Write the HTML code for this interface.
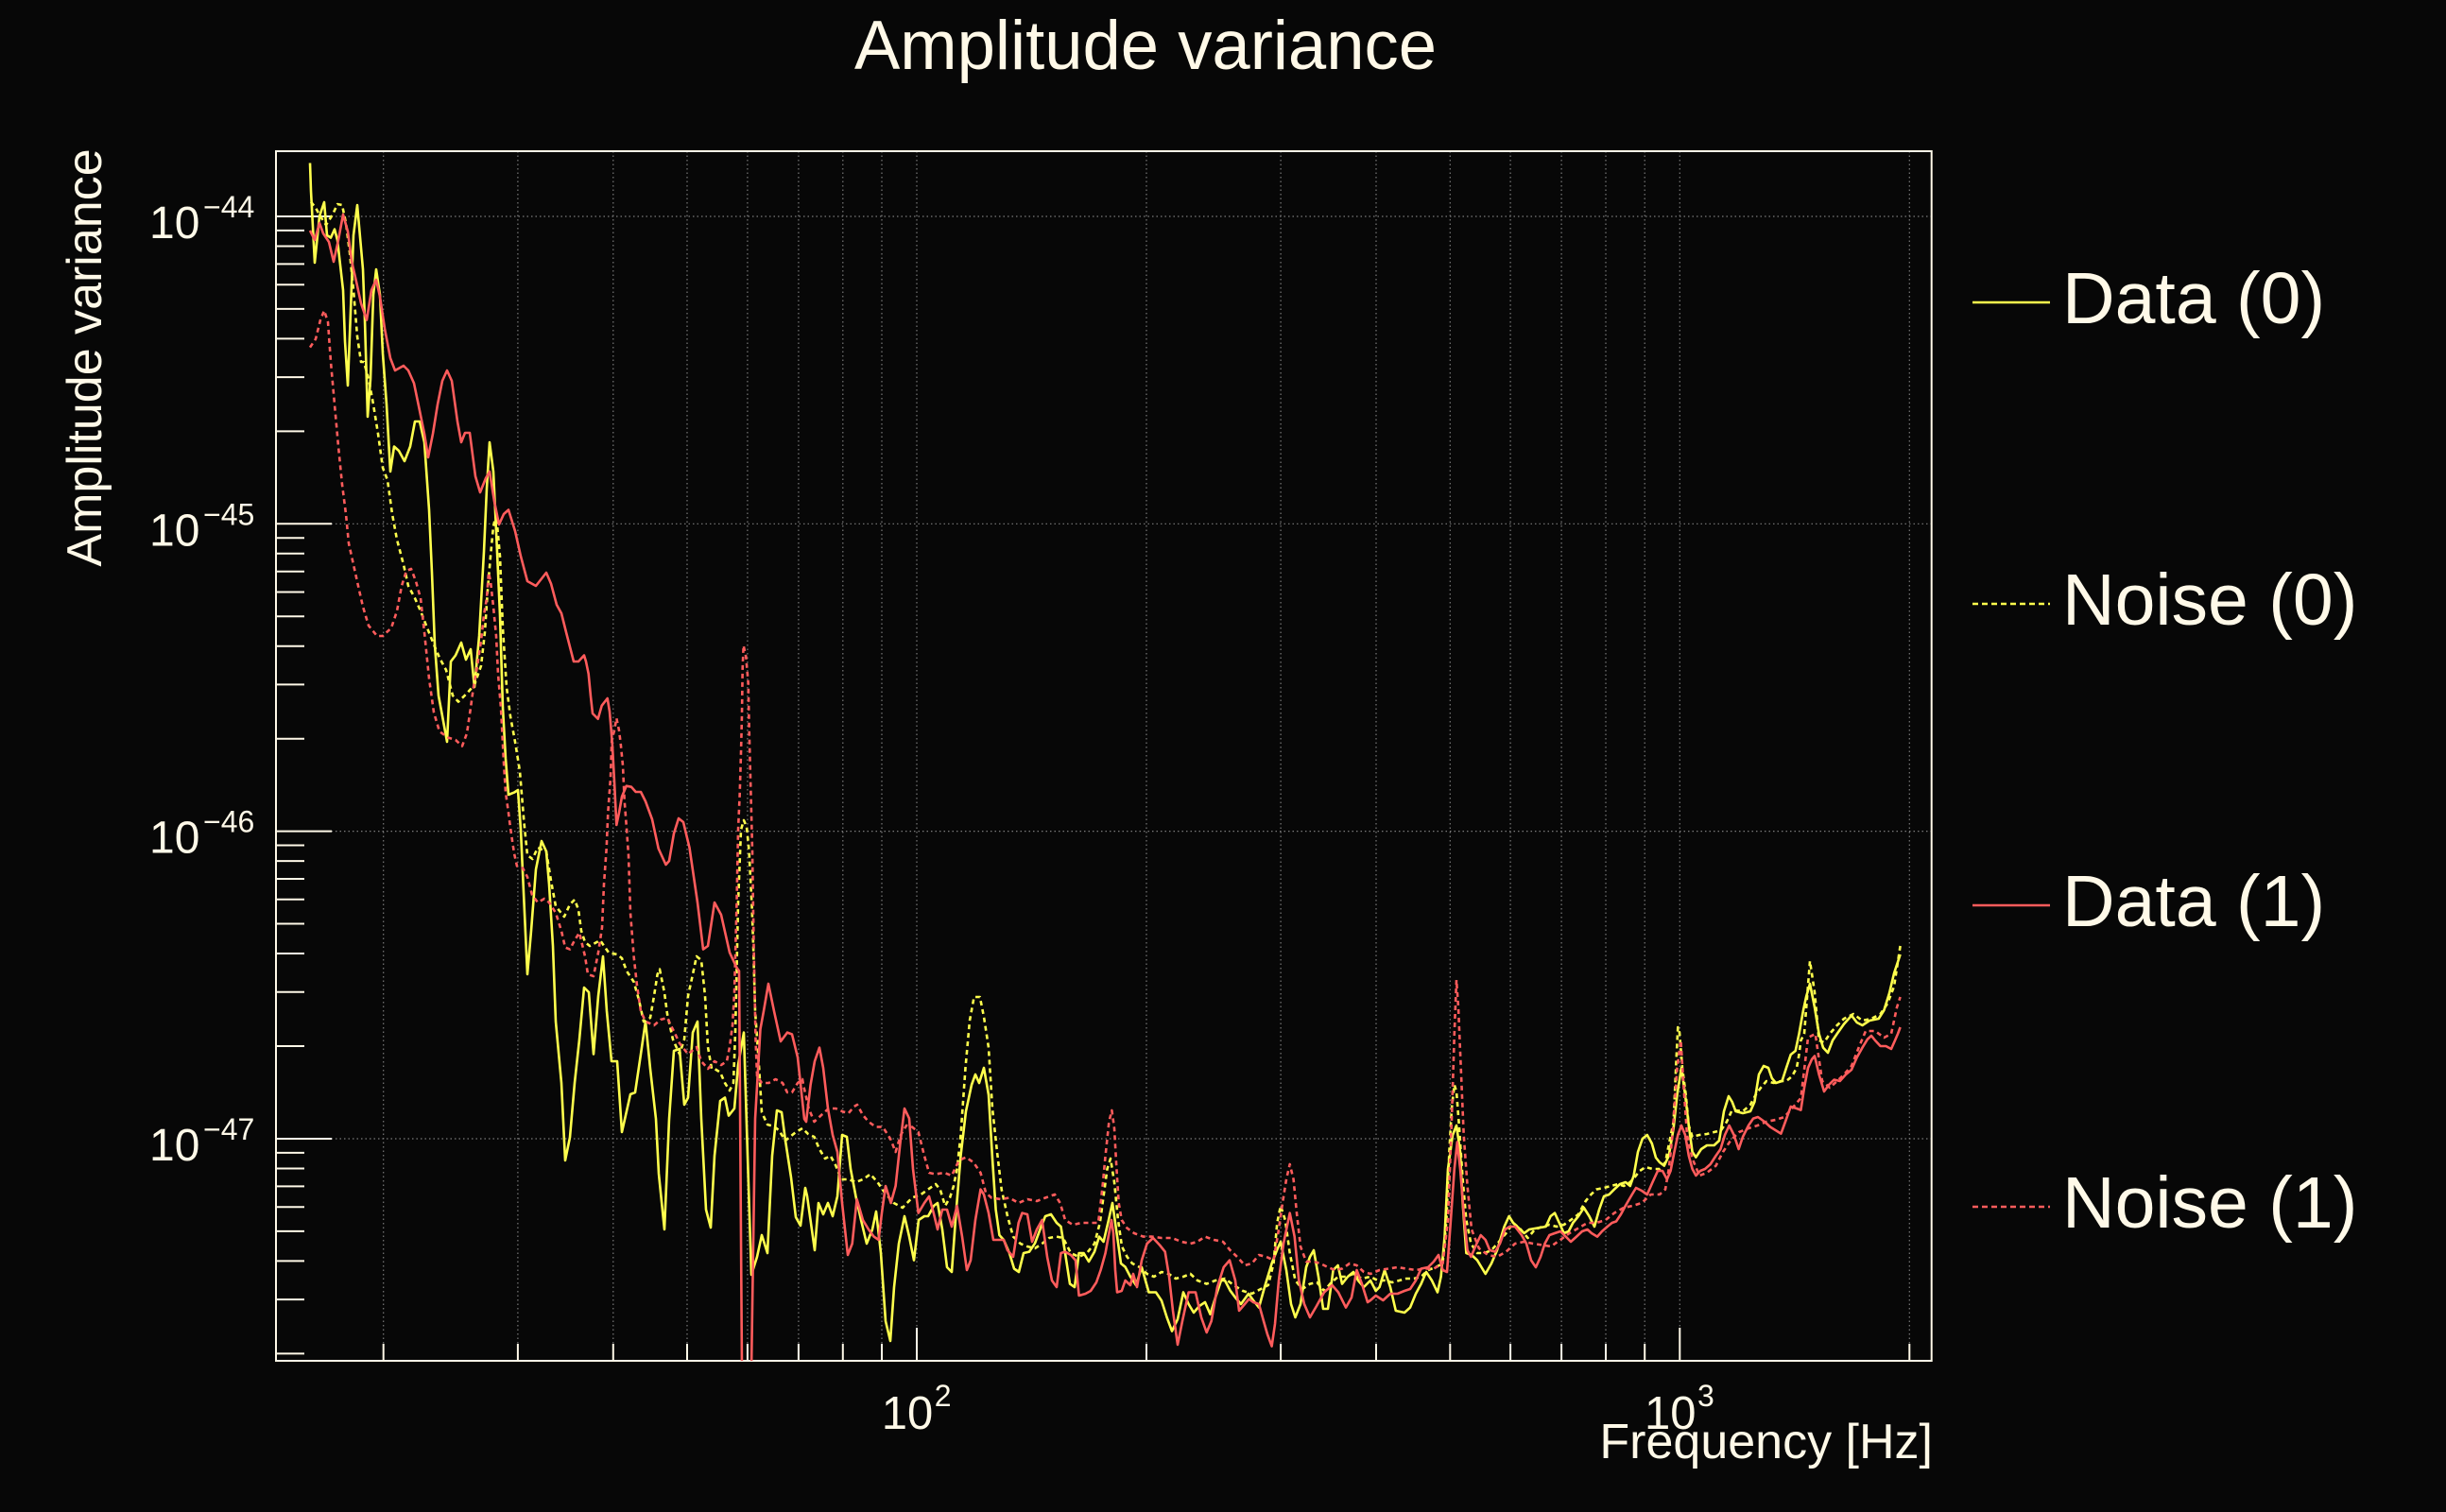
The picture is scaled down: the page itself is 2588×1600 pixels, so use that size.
<!DOCTYPE html>
<html><head><meta charset="utf-8"><style>
html,body{margin:0;padding:0;background:#070707;}
svg{display:block;}
text{font-family:"Liberation Sans",Arial,sans-serif;fill:#fff9e8;}
</style></head><body>
<svg width="2588" height="1600" viewBox="0 0 2588 1600" xmlns="http://www.w3.org/2000/svg">
<rect x="0" y="0" width="2588" height="1600" fill="#070707"/>
<defs><clipPath id="pc"><rect x="292" y="160" width="1752" height="1280"/></clipPath></defs>

<text x="1212" y="73" font-size="73" text-anchor="middle" textLength="616" lengthAdjust="spacingAndGlyphs">Amplitude variance</text>

<g stroke="#7a7a7a" stroke-width="1.2" stroke-dasharray="1.5,3" fill="none">
<line x1="292" y1="229" x2="2043" y2="229"/>
<line x1="292" y1="554.3" x2="2043" y2="554.3"/>
<line x1="292" y1="879.6" x2="2043" y2="879.6"/>
<line x1="292" y1="1205" x2="2043" y2="1205"/>
<line x1="405.7" y1="160" x2="405.7" y2="1440"/>
<line x1="547.9" y1="160" x2="547.9" y2="1440"/>
<line x1="648.8" y1="160" x2="648.8" y2="1440"/>
<line x1="727" y1="160" x2="727" y2="1440"/>
<line x1="790.9" y1="160" x2="790.9" y2="1440"/>
<line x1="844.9" y1="160" x2="844.9" y2="1440"/>
<line x1="891.8" y1="160" x2="891.8" y2="1440"/>
<line x1="933" y1="160" x2="933" y2="1440"/>
<line x1="970" y1="160" x2="970" y2="1440"/>
<line x1="1213" y1="160" x2="1213" y2="1440"/>
<line x1="1355.1" y1="160" x2="1355.1" y2="1440"/>
<line x1="1456" y1="160" x2="1456" y2="1440"/>
<line x1="1534.3" y1="160" x2="1534.3" y2="1440"/>
<line x1="1598.1" y1="160" x2="1598.1" y2="1440"/>
<line x1="1652.1" y1="160" x2="1652.1" y2="1440"/>
<line x1="1699" y1="160" x2="1699" y2="1440"/>
<line x1="1740.2" y1="160" x2="1740.2" y2="1440"/>
<line x1="1777.3" y1="160" x2="1777.3" y2="1440"/>
<line x1="2020.3" y1="160" x2="2020.3" y2="1440"/>
</g>

<g stroke="#fff9e8" stroke-width="2" fill="none">
<rect x="292" y="160" width="1751.7" height="1280"/>
<!-- y major ticks -->
<line x1="292" y1="229" x2="351" y2="229"/>
<line x1="292" y1="554.3" x2="351" y2="554.3"/>
<line x1="292" y1="879.6" x2="351" y2="879.6"/>
<line x1="292" y1="1205" x2="351" y2="1205"/>
<!-- y minor ticks -->
<path d="M292 243.9H322M292 260.5H322M292 279.4H322M292 301.2H322M292 326.9H322M292 358.4H322M292 399.1H322M292 456.4H322
M292 569.2H322M292 585.8H322M292 604.7H322M292 626.5H322M292 652.2H322M292 683.7H322M292 724.4H322M292 781.7H322
M292 894.5H322M292 911.1H322M292 930H322M292 951.8H322M292 977.5H322M292 1009H322M292 1049.7H322M292 1107H322
M292 1219.9H322M292 1236.5H322M292 1255.4H322M292 1277.2H322M292 1302.9H322M292 1334.4H322M292 1375.1H322M292 1432.4H322"/>
<!-- x ticks -->
<path d="M405.7 1440V1422M547.9 1440V1422M648.8 1440V1422M727 1440V1422M790.9 1440V1422M844.9 1440V1422M891.8 1440V1422M933 1440V1422
M970 1440V1405
M1213 1440V1422M1355.1 1440V1422M1456 1440V1422M1534.3 1440V1422M1598.1 1440V1422M1652.1 1440V1422M1699 1440V1422M1740.2 1440V1422
M1777.3 1440V1405
M2020.3 1440V1422"/>
</g>

<!-- y tick labels -->
<g font-size="48">
<text x="158" y="252">10</text>
<text x="158" y="577.3">10</text>
<text x="158" y="902.6">10</text>
<text x="158" y="1228">10</text>
</g>
<g font-size="32">
<text x="215" y="230">−44</text>
<text x="215" y="555.3">−45</text>
<text x="215" y="880.6">−46</text>
<text x="215" y="1206">−47</text>
</g>
<!-- x tick labels -->
<text x="932.7" y="1512" font-size="49">10</text>
<text x="988.7" y="1488" font-size="32">2</text>
<text x="1740" y="1512" font-size="49">10</text>
<text x="1796" y="1488" font-size="32">3</text>

<text x="2045" y="1543" font-size="52" text-anchor="end">Frequency [Hz]</text>
<text transform="translate(107,378.5) rotate(-90)" font-size="52" text-anchor="middle">Amplitude variance</text>

<g clip-path="url(#pc)" fill="none" stroke-width="2.6" stroke-linejoin="round">
<!-- Data (0) -->
<polyline stroke="#ffff4d" points="328,172.5 329,202 333,278 338,229 343,214 346,249 350,251.5 354,242.6 357,254 363,307 365,361 368,408 372,303 374,249 378,217 384,285 386,338.6 389,441 392,401 395,312 398,285 402,312 405,374 409,428 413,499 417,472.5 422,477 428,488 434,472.5 439,446 444,446 449,468 454,539.5 457,606 460,682 464,736 469,763 473,785 477,700 482,693.5 488,680 493,698 498,687 502,727 507,673 512,584 515,517 518,468 522,499 525,562 529,651 532,749 535,803 538,841 544,838.6 548,836 551,878 554.5,955 558,1031 562,985 567,920 573,890 578,901 581,936 585,1001 588,1081 594,1146 598,1228 603,1203.5 608,1146 613,1100 618,1045 623,1050 628,1115.5 633,1054 638,1012 642,1070 647,1123 653,1123 658,1198 667,1158 672,1156 678,1115.5 683,1081 688,1131 694,1184 697,1242 703,1301 708,1184 713,1112 719,1110 724,1169 728,1161.5 733,1092.6 738,1081 742,1184 747,1280 752,1299 756,1223 762,1165 767,1161.5 771,1180.6 777,1173 781,1127 787,1092.6 791,1223 795,1349 801,1330 806,1307 812,1326 817,1223 822,1175 827,1177 831,1207 837,1246 842,1288 847,1297 852,1257 854,1265.7 862,1323 866,1273 871,1285 876,1273 881,1287 886,1266 891,1201 896,1203 900,1237 905.5,1266 911,1291 917,1316 923,1301 927,1282 932,1326 937,1398 942,1419 946,1362 951,1316 957,1287 962,1308.6 967,1333.6 972,1291 978,1287 982,1287 988,1276 992,1273 997,1301 1002,1341 1007,1346 1011.5,1283.6 1016.5,1223 1022,1176 1028,1148 1032,1137 1036,1146 1041,1130 1046,1158.6 1050,1226 1053.6,1280 1057.4,1307 1062,1312 1068,1326 1073,1342.5 1078,1346 1083,1326 1089,1324.6 1095,1315.7 1101,1299.6 1106,1287 1112,1285 1118,1294 1122.5,1298 1127,1326 1132,1358.6 1137,1362 1141.6,1326 1146.6,1326 1152,1335 1158,1324.6 1163,1308.6 1167.6,1314 1173,1291 1177,1273 1181,1301 1186,1337 1190.6,1340.7 1196,1351 1202,1360 1208,1341 1215.5,1367.5 1223,1367.5 1229,1376.4 1234.6,1394 1240,1408.6 1246,1396 1252,1367.5 1257.6,1380 1263,1389 1269,1382 1275,1378 1280.5,1390.7 1286,1373 1292,1355 1296,1355 1301.6,1365.7 1307,1373 1313,1380 1321,1369 1326,1376 1332,1383.6 1338,1362 1345.6,1337 1351,1323 1355,1314 1361,1344 1366,1380 1370.5,1394 1376,1380 1382,1341 1386,1330 1390,1323 1395,1351 1400,1385 1405,1385 1410.6,1344 1415.6,1339 1420,1358.6 1426,1351 1432,1346 1437,1355 1443,1362 1450,1355 1455.7,1366 1459.6,1362 1465,1344 1471,1362 1476.8,1387 1486,1389 1492,1383.6 1498,1369 1503.6,1358.6 1509,1346 1515,1355 1521,1367.5 1524.6,1351 1528.5,1308.6 1532,1237 1537,1201 1541,1191 1545,1219 1547.6,1273 1551.4,1326 1557,1328 1563,1333.6 1571.7,1348 1578,1337 1584,1323 1591.6,1298 1596.6,1287 1601,1294 1607,1299.6 1612.6,1305 1618,1301 1626,1299.6 1635.6,1298 1640.6,1287 1645,1283.6 1649.8,1294 1654.7,1305 1659.7,1303 1664.3,1294 1670,1287 1675.8,1278 1681.5,1287 1687,1298 1692,1280 1697,1266 1702.6,1264 1708,1258.6 1714,1253 1720,1251 1724.8,1255 1728.6,1244 1733,1219 1737.8,1205 1742.8,1201 1747.8,1210 1752,1225 1756,1230 1760.8,1233.6 1765.7,1223 1770.7,1194 1774.5,1158.6 1779,1130 1783,1158.6 1786.8,1191 1790.6,1219 1794.4,1224.6 1800,1216 1806,1212 1813.6,1212 1819,1207 1824,1176 1829,1160 1832.7,1166 1836.5,1176 1844,1178 1852,1176 1856.4,1166 1861,1137 1866,1128 1871,1130 1874.8,1141 1879,1146 1885.5,1144 1890,1130 1894.7,1116 1899.7,1112 1903.5,1094 1908,1069 1911,1055 1915,1041 1920,1066 1924.6,1094 1929,1108.6 1934,1114 1939,1101 1943.7,1094 1951,1083.6 1959,1074.6 1964.7,1082 1970.5,1085 1978,1080 1987.7,1078 1993.4,1069 1999,1051 2004,1030 2010.6,1010"/>

<!-- Noise (0) -->
<polyline stroke="#ffff4d" stroke-dasharray="5,4" points="329,213.6 334,220 339,229 345,238 352,227 357,216 362,217 366,236 370,267 374,307 378,356 382,383 385,383 390,401 395,428 400,459 405,495 410,508 415,544 420,571 427,597.5 432,620 439,633 445,646.6 452,664.5 459,682 465,696 472,709 479,736 485,742.6 494,733.7 502,724.7 509,704.6 513,669 516,624 519,588.6 522,557 525,544 529,588.6 532,664.5 536,727 540,758 545,785 550,816 554.5,870.6 558,905 563.4,909 569,897 578,901 583,932 588,959 597,970 603,957 608,952 612,962.5 615,985 619,997 624,1001 635,995 644,1008 653,1010 658,1014 663,1027.5 670.6,1039 676,1058 681,1081 688,1077 692,1054 695.6,1031 698,1025.6 703,1050.5 706,1073 712,1100 719,1115.5 724,1100 728,1054 733,1031 737,1012 742,1016 746,1054 749,1108 753,1131 756,1131 762,1134.7 767,1146 772,1154 776,1146 778,1092.6 781,955 784,878 787,868 790,875 792.5,900 795.6,960 797,1000 799,1070 803,1127 806,1177 812,1190 819,1192 824,1196 831,1207 842,1198 849,1194 855,1200 861.5,1203 867,1216 873,1226 878.7,1223 884.4,1233.6 890,1248 898,1248 905.5,1251 913,1248 921,1242.5 928.5,1251 936,1262 945.7,1273 955,1278 965,1267.5 974.4,1264 982,1258.6 990,1253 994.7,1258.6 1000,1276 1005,1267.5 1009,1255 1012.6,1237 1016.5,1201 1021.5,1130 1026,1080 1030.6,1055 1036.8,1055 1041,1076 1046,1108.6 1050,1173 1055,1219 1059.7,1258.6 1066,1287 1072,1308.6 1079.6,1316 1087,1319 1095,1321 1102.6,1316 1110,1310 1118,1308.6 1124.8,1310 1133,1326 1141.6,1330 1150,1326 1158,1316 1163.8,1294 1167.6,1266 1171.5,1237 1175,1226 1179,1251 1183,1291 1187,1319 1192.5,1330 1198,1337 1206,1341 1213.6,1348 1221,1351 1229,1346 1236.5,1348 1244,1353 1252,1351 1259.5,1348 1267,1355 1276.7,1358.6 1286,1355 1296,1353 1305.4,1360 1315,1366 1324.6,1369 1334,1364 1341.8,1360 1347.5,1337 1351.3,1294 1355,1276 1359.8,1291 1364.7,1326 1370.5,1355 1378,1364 1386,1358.6 1393.4,1357 1401,1366 1408.7,1357 1416,1351 1424,1351 1431.7,1348 1441,1353 1450,1351 1457.7,1355 1465,1355 1473,1357 1480.6,1355 1488,1353 1496,1353 1503.6,1351 1511,1344 1519,1341 1526.5,1337 1530.4,1291 1533.4,1219 1536,1173 1538.8,1148 1541,1155 1543.8,1191 1547.6,1248 1551.4,1291 1556.4,1316 1563,1326 1570.6,1326 1578,1323 1586,1314 1593.5,1305 1601,1294 1609,1301 1616.5,1310 1624,1301 1632,1298 1639.4,1296 1647,1298 1654.7,1296 1662,1291 1670,1285 1677.7,1271 1683.4,1264 1689,1258.6 1697,1257 1704.5,1255 1712,1253 1718,1255 1724.8,1251 1729.4,1246 1735,1239 1741,1235 1748.5,1237 1756,1237 1762,1230 1767,1205 1770.7,1187 1773.4,1126 1775.3,1087 1777,1092.5 1780,1130 1783.7,1158.6 1786.8,1191 1790.6,1203 1798,1201 1806,1200 1813.6,1198 1821,1196 1827,1187 1832,1176 1836.5,1175 1844,1176 1852,1169 1857.6,1158.6 1863,1151 1869,1144 1876.7,1146 1884.4,1144 1890,1144 1896,1139 1901,1130 1903.5,1116 1905.4,1101 1909,1094 1915,1017 1920,1050 1924.6,1101 1930,1103 1936,1094 1943.7,1085 1951,1078 1961,1073 1970.5,1080 1980,1078 1989.6,1073 1997,1062 2004,1044 2010.6,1001"/>

<!-- Data (1) -->
<polyline stroke="#ff5c5c" points="328,244 333,254 338,236 342,247 348,256 353,277 358,254 363,227 368,245 372,276 377,298 382,321 388,338.6 393,307 398,296 402,314 407,347.5 413,379 418,392 427,387 432,392 438,405.5 444,434.5 449,459 453,484 458,459 463,428 468,403 473,392 478,403 484,446 488,468 492,458 497,458 503,504 508,521 514,506 518,499 523,530.5 528,555 533,544 538,539.5 545,562 551,588.6 558,615 567,620 578,606 583,617.6 589,640 594,649 599,669 607,700 612,700 618,693.5 620,700 622.7,713 625,737 627,755 632.7,760.7 636.7,746.7 642.7,739 645,753 646.7,773 648,790 650,827 652.3,873 655,860 658,843 662.7,831.7 668,832.7 672.7,838 678,838 683,848 690,867 696.7,898 704.5,915 708,911 713,882 718,866 723,870 729.5,897 738,955 744,1004.6 749,1001 756,955 763,968 772,1008 779.5,1024 782,1027.5 785,1450 795,1450 799,1184 804.5,1089 808,1070 813,1041 819,1070 826,1102 833,1092.6 838,1094.5 844,1119 851,1184 853,1187 857.6,1148 862,1123 867,1108.6 871,1130 876,1173 881,1201 886,1219 891,1273 897,1328 901.7,1316 906.6,1269 913,1291 919,1301 924.6,1308.6 929.6,1312 933,1283.6 937,1255 942.6,1273 947.6,1255 952.6,1208.6 957,1173 962,1183.6 966,1237 971.7,1283.6 978,1273 983,1266 987.8,1283.6 992,1301 997,1280 1002,1280 1007,1298 1012.6,1276 1018,1308.6 1023,1344 1027,1333.6 1032,1291 1037.5,1258.6 1041,1264 1046,1283.6 1051,1312 1056.7,1312 1062,1312 1066,1323 1072,1330 1077.7,1294 1081.5,1283.6 1087,1285 1092,1314 1097,1301 1102.6,1291 1108,1330 1113,1355 1118,1362 1122.5,1326 1127,1324.6 1133,1328 1138,1333.6 1141.6,1371 1148.5,1369 1154,1366 1160,1357 1164.6,1344 1169.6,1326 1173.4,1305 1176,1291 1178,1305 1180,1344 1182,1367.5 1186.8,1366 1190.6,1355 1196,1360 1199,1348 1203,1362 1208,1333.6 1213.6,1316 1220,1310 1227,1317.5 1232.7,1324.6 1237,1351 1241,1387 1246,1423 1251,1398 1257.6,1367.5 1265,1367.5 1271,1394 1276.7,1410 1281.7,1398 1288,1362 1294.7,1341 1301,1333.6 1307,1355 1311,1387 1317,1380 1321.5,1374.6 1326,1378 1332,1380 1337,1398 1341,1412 1345.6,1424.6 1349,1401 1353,1355 1358,1316 1364.7,1283.6 1369.7,1308.6 1374.3,1355 1380,1380 1386,1394 1393,1382 1401,1367.5 1409.5,1360 1416,1367.5 1424,1383.6 1430,1373 1435.5,1344 1441,1358.6 1447,1378 1450,1376 1455.7,1371 1463.4,1376 1471,1369 1478.7,1369 1486,1366 1492,1364 1498,1355 1503.6,1342.5 1511,1341 1517,1335 1522,1328 1526.5,1344 1531,1346 1535,1291 1538.8,1237 1541.8,1208.6 1545,1237 1548.7,1283.6 1552.6,1323 1556.4,1330 1561,1319 1566.7,1307 1571.7,1312 1576.3,1323 1582,1324.6 1587,1316 1592.4,1301 1597.3,1298 1603,1298 1610,1307 1615,1316 1620,1333.6 1625,1341 1630,1330 1634.5,1316 1639.4,1307 1645,1305 1651,1303 1656.7,1308.6 1662,1314 1668,1308.6 1674,1303 1679.6,1301 1684,1305 1690,1308.6 1695,1303 1700.7,1298 1705.6,1294 1710,1292.5 1715,1285 1719.8,1276 1725.6,1266 1731,1257 1737,1260 1742.8,1264 1748.5,1251 1754,1239 1759,1239 1763.8,1248 1767.6,1239 1771.5,1219 1775.3,1201 1779,1191 1783,1201 1786.8,1223 1790.6,1237 1794.4,1244 1799,1239 1804,1237 1809.7,1232 1815.5,1223 1820.4,1216 1825,1201 1829.6,1191 1834.6,1201 1839.6,1216 1844,1203 1850,1191 1855,1183.6 1860,1182 1867,1187 1873,1192.5 1878.6,1196 1884.4,1199.6 1889,1187 1894.7,1171 1901,1173 1905.4,1174.6 1909,1151 1913,1130 1917,1121 1920,1117.5 1924.6,1137 1930,1155 1935,1148 1940.6,1142.5 1946.7,1144 1953,1137 1959,1132 1964.7,1119 1970.5,1108.6 1976,1099.6 1980,1096 1984,1101 1989.6,1107 1995.4,1107 2001,1110 2005,1101 2008,1094 2010.6,1087"/>

<!-- Noise (1) -->
<polyline stroke="#ff5c5c" stroke-dasharray="5,4" points="328,367.6 334,358.7 339,338.6 343,328.7 347,340.8 350,383 354,428 358,472.5 362,512.7 366,544 369,575 374,597.5 379,620 384,642 390,662 399,673 405,673 414,664.5 420,646.6 425,620 430,604 435,602 440,615 445,633 449,669 454,718 459,753.8 465,774 474,780.5 482,783 489,789.5 494,776 498,749 501,727 505,704.6 509,678 512,651 515,633 517,606 519,615 522,642 525,673 527,713.6 530,749 533,807 535,838.6 538,860 540,876 544,903 547,916.5 553,918.5 558,928 563,947 569,955 576,951 581,955 588,966 594,985 598,1002.6 603,1004.6 608,995 613,987 619,1012 622,1031 628,1033 633,1008 637,981.6 639,935.7 641.7,898 643.3,860 646,823 647.3,783 650,773 652.3,760 655,773 656.7,786.7 659,810 660.7,846.7 662.7,873 665,905 667,966 670.6,1012 674,1043 678,1070 683,1081 692,1085 699,1079 706,1077 713.6,1092.6 719,1104 728,1115.5 737,1108 742,1123 749,1131 756,1123 763,1127 769,1123 772,1108 775,1085 777,1050.5 779.5,955 781,878 782.7,840 784,796.7 785,756.7 785.7,706.7 786.7,683 789.3,695 791.7,723 792.7,773 794,823 795.3,873 796,900 797.5,1000 799.5,1100 801,1138.5 806,1146 813.4,1146 820.6,1142 828,1146 833,1156 838,1156 844,1146 849,1142 850,1148 855.7,1173 861.5,1187 869,1180 876.8,1173 884.4,1173 892,1176.4 897.8,1178 903.6,1171 907,1169 913,1180 919,1187 926.5,1192.5 934,1192.5 942,1205 947.6,1219 953,1201 959,1191 965,1192.5 971.7,1198 978,1223 983,1241 989.7,1242.5 999,1241 1007,1244 1014.6,1228 1022,1224.6 1030,1230 1037.5,1241 1043,1262 1049,1267.5 1058.6,1269 1068,1267.5 1077.7,1273 1087,1269 1097,1271 1106,1267.5 1116,1264 1121.7,1273 1127,1291 1135,1296 1144.7,1294 1154,1294 1162,1294 1164.6,1273 1167,1251 1169.6,1223 1173.4,1187 1176.4,1175 1179,1194 1181.4,1237 1183.7,1273 1186.8,1291 1192.5,1299.6 1200,1305 1209.7,1308.6 1219,1308.6 1229,1310 1240,1310 1250,1314 1259.5,1316 1267,1314 1274.8,1308.6 1284.4,1312 1294,1314 1301.6,1323 1309,1330 1317,1339 1324.6,1337 1332,1328 1340,1330 1347.5,1333.6 1353,1301 1357,1273 1361,1248 1364.7,1232 1368.6,1248 1372,1283.6 1376,1319 1382,1335 1389.6,1335 1397,1337 1405,1341 1412.6,1344 1420,1342.5 1428,1337 1435.5,1339 1443,1346 1450,1348 1459.6,1344 1469,1342.5 1478.7,1341 1488,1342.5 1498,1344 1507.4,1342.5 1517,1342.5 1526.5,1337 1532,1291 1536,1183.6 1538.8,1094 1541,1037 1543,1066 1545.7,1130 1548.7,1201 1552.6,1255 1557,1301 1564.8,1321 1574.4,1328 1584,1330 1593.5,1324.6 1603,1316 1612.6,1314 1622,1316 1632,1317.5 1641,1319 1651,1312 1660.5,1305 1670,1299.6 1679.6,1294 1689,1294 1698.8,1291 1708,1283.6 1718,1278 1727.5,1276 1737,1273 1746.6,1264 1756,1264 1762,1258.6 1765.7,1237 1769.6,1201 1774.5,1130 1778.4,1101 1781,1144 1785,1201 1790.6,1226 1798,1244 1806,1241 1815.5,1233.6 1823,1219 1831,1207 1840,1198 1850,1194 1859.5,1191 1869,1187 1878.6,1185 1888,1182 1896,1173 1905.4,1162 1913,1098 1920.7,1094 1928,1144 1936,1151 1943.7,1144 1951,1137 1959,1128 1966.6,1108.6 1974,1091 1984,1091 1993.4,1098 2001,1094 2007,1066 2010.6,1055"/>
</g>

<!-- Legend -->
<g stroke-width="2.5">
<line x1="2087" y1="320" x2="2169" y2="320" stroke="#ffff4d"/>
<line x1="2087" y1="639" x2="2169" y2="639" stroke="#ffff4d" stroke-dasharray="6,4"/>
<line x1="2087" y1="958" x2="2169" y2="958" stroke="#ff5c5c"/>
<line x1="2087" y1="1277" x2="2169" y2="1277" stroke="#ff5c5c" stroke-dasharray="6,4"/>
</g>
<g font-size="77">
<text x="2182" y="342">Data (0)</text>
<text x="2182" y="661">Noise (0)</text>
<text x="2182" y="980">Data (1)</text>
<text x="2182" y="1299">Noise (1)</text>
</g>
</svg>
</body></html>
